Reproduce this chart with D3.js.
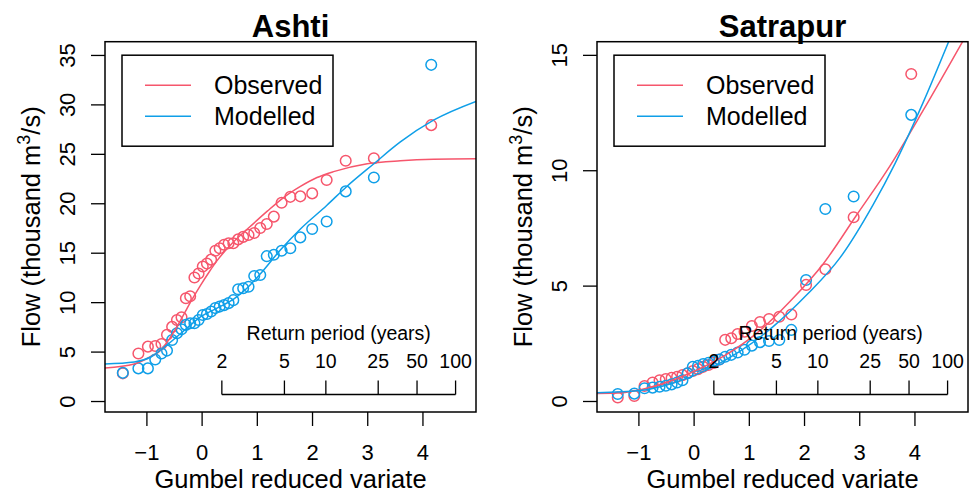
<!DOCTYPE html>
<html>
<head>
<meta charset="utf-8">
<script src="https://cdn.jsdelivr.net/npm/d3@7"></script>
<style>
  body { margin: 0; background: #fff; }
  svg { display: block; }
  text { font-family: "Liberation Sans", Arial, Helvetica, sans-serif; fill: #000; }
</style>
</head>
<body>
<svg id="chart" width="969" height="492"></svg>
<script>
const RED = "#f6566c";
const BLUE = "#0f9fe8";

// Ashti: Gumbel plotting positions and sorted annual maxima (thousand m3/s)
const ashtiX = [-1.427, -1.145, -0.973, -0.840, -0.727, -0.627, -0.534, -0.447, -0.364, -0.285,
  -0.207, -0.130, -0.055, 0.021, 0.096, 0.172, 0.249, 0.327, 0.407, 0.489, 0.574, 0.662, 0.753,
  0.850, 0.953, 1.062, 1.180, 1.308, 1.449, 1.607, 1.788, 2.003, 2.265, 2.610, 3.120, 4.159];
const ashtiObs = [2.8, 4.8, 5.5, 5.56, 5.77, 6.7, 7.5, 8.2, 8.47, 10.4, 10.6, 12.5, 12.9, 13.6,
  13.9, 14.3, 15.2, 15.45, 15.8, 15.95, 15.95, 16.35, 16.6, 16.8, 17.0, 17.5, 17.9, 18.65, 20.05,
  20.65, 20.7, 21.0, 22.35, 24.3, 24.55, 27.9];
const ashtiMod = [2.85, 3.3, 3.3, 4.2, 4.8, 5.1, 6.17, 6.85, 7.25, 7.7, 7.86, 7.86, 8.2, 8.7, 8.8,
  9.05, 9.4, 9.55, 9.7, 9.9, 10.2, 11.3, 11.4, 11.55, 12.65, 12.75, 14.65, 14.8, 15.2, 15.45,
  16.55, 17.4, 18.15, 21.2, 22.6, 34.0];
// fitted curves
const ashtiObsFitX = [-1.75, -1.22, -0.92, -0.77, -0.62, -0.47, -0.32, -0.17, -0.02, 0.13, 0.28,
  0.58, 0.89, 1.19, 1.49, 1.79, 2.09, 2.39, 3.0, 3.6, 4.2, 4.97];
const ashtiObsFitY = [3.35, 3.75, 4.5, 5.0, 6.0, 7.3, 8.8, 10.3, 11.7, 13.0, 14.2,
  16.1, 17.7, 19.2, 20.6, 21.7, 22.6, 23.2, 24.0, 24.3, 24.45, 24.5];
const ashtiModFitX = [-1.75, -1.22, -0.92, -0.62, -0.26, -0.02, 0.28, 0.58, 0.82, 1.07, 1.43,
  1.79, 2.27, 2.63, 3.12, 3.6, 4.2, 4.97];
const ashtiModFitY = [3.75, 3.95, 4.45, 5.7, 7.4, 8.5, 9.4, 10.3, 11.4, 12.9, 15.3,
  17.4, 19.8, 21.7, 24.0, 26.2, 28.4, 30.3];

// Satrapur
const satrapurX = [-1.374, -1.074, -0.889, -0.743, -0.617, -0.504, -0.399, -0.299, -0.202, -0.108,
  -0.014, 0.079, 0.173, 0.269, 0.367, 0.467, 0.572, 0.682, 0.798, 0.922, 1.055, 1.202, 1.366,
  1.552, 1.770, 2.037, 2.386, 2.899, 3.942];
const satrapurObs = [0.15, 0.22, 0.65, 0.8, 0.9, 0.95, 1.0, 1.05, 1.12, 1.2, 1.3, 1.38, 1.48,
  1.56, 1.65, 1.8, 2.65, 2.72, 2.9, 3.0, 3.25, 3.42, 3.55, 3.65, 3.75, 5.03, 5.71, 7.96, 14.17];
const satrapurMod = [0.3, 0.32, 0.55, 0.58, 0.62, 0.66, 0.72, 0.8, 0.9, 1.2, 1.48, 1.52, 1.6,
  1.65, 1.72, 1.8, 1.92, 2.0, 2.1, 2.22, 2.4, 2.55, 2.6, 2.64, 3.08, 5.24, 8.32, 8.86, 12.4];
const satrapurObsFitX = [-1.75, -1.3, -0.98, -0.5, -0.07, 0.53, 1.14, 1.74, 2.35, 2.95, 3.56, 4.16, 4.89];
const satrapurObsFitY = [0.33, 0.36, 0.48, 0.8, 1.2, 1.92, 2.93, 4.3, 5.95, 8.05, 10.2, 12.6, 15.65];
const satrapurModFitX = [-1.75, -0.98, -0.38, 0.23, 0.83, 1.44, 2.05, 2.65, 3.25, 3.65, 4.16, 4.65];
const satrapurModFitY = [0.36, 0.45, 0.77, 1.34, 2.14, 3.22, 4.6, 6.2, 8.5, 10.3, 12.95, 15.75];

const xTicks = [-1, 0, 1, 2, 3, 4];
const returnPeriods = [2, 5, 10, 25, 50, 100];
const legendLabels = ["Observed", "Modelled"];

const gumbel = T => -Math.log(-Math.log(1 - 1 / T));

const svg = d3.select("#chart");

function drawPanel(opts) {
  const { id, title, left, right, top, bottom, yDomain, yTicks, x, obs, mod, obsFit, modFit } = opts;
  const g = svg.append("g");

  const xs = d3.scaleLinear().domain([-1.75, 4.97]).range([left, right]);
  const ys = d3.scaleLinear().domain(yDomain).range([bottom, top]);

  g.append("clipPath").attr("id", "clip-" + id)
    .append("rect").attr("x", left).attr("y", top)
    .attr("width", right - left).attr("height", bottom - top);

  const plot = g.append("g").attr("clip-path", "url(#clip-" + id + ")");

  // points
  const series = [{ v: obs, c: RED }, { v: mod, c: BLUE }];
  series.forEach(s => {
    plot.append("g").selectAll("circle")
      .data(s.v.map((v, i) => [x[i], v]))
      .enter().append("circle")
      .attr("cx", d => xs(d[0]))
      .attr("cy", d => ys(d[1]))
      .attr("r", 5.3)
      .attr("fill", "none")
      .attr("stroke", s.c)
      .attr("stroke-width", 1.5);
  });

  // fitted curves
  const line = d3.line().x(d => xs(d[0])).y(d => ys(d[1])).curve(d3.curveMonotoneX);
  [{ f: obsFit, c: RED }, { f: modFit, c: BLUE }].forEach(s => {
    plot.append("path")
      .datum(s.f[0].map((v, i) => [v, s.f[1][i]]))
      .attr("d", line)
      .attr("fill", "none")
      .attr("stroke", s.c)
      .attr("stroke-width", 1.5);
  });

  // axes
  const xAxis = g.append("g").attr("transform", `translate(0,${bottom})`)
    .call(d3.axisBottom(xs).tickValues(xTicks).tickSize(14)
      .tickFormat(d => d < 0 ? "\u2212" + Math.abs(d) : d));
  const yAxis = g.append("g").attr("transform", `translate(${left},0)`)
    .call(d3.axisLeft(ys).tickValues(yTicks).tickSize(14));
  [xAxis, yAxis].forEach(a => {
    a.select(".domain").remove();
    a.selectAll("line").attr("stroke", "#000").attr("stroke-width", 1.3);
    a.selectAll("text").attr("font-size", 22).attr("fill", "#000")
      .attr("font-family", "Liberation Sans, Arial, sans-serif");
  });
  xAxis.selectAll("text").attr("dy", null).attr("y", 48);
  yAxis.selectAll("text")
    .attr("x", null).attr("dy", null)
    .attr("text-anchor", "middle")
    .attr("transform", "translate(-30,0) rotate(-90)");

  // box
  g.append("rect").attr("x", left).attr("y", top)
    .attr("width", right - left).attr("height", bottom - top)
    .attr("fill", "none").attr("stroke", "#000").attr("stroke-width", 1.5);

  // title
  g.append("text").attr("x", (left + right) / 2).attr("y", 37)
    .attr("text-anchor", "middle").attr("font-size", 31).attr("font-weight", "bold")
    .text(title);

  // axis titles
  g.append("text").attr("x", (left + right) / 2).attr("y", 488)
    .attr("text-anchor", "middle").attr("font-size", 25.5)
    .text("Gumbel reduced variate");
  const yl = g.append("text")
    .attr("transform", `translate(${left - 65},${(top + bottom) / 2}) rotate(-90)`)
    .attr("text-anchor", "middle").attr("font-size", 25.5);
  yl.append("tspan").text("Flow (thousand m");
  yl.append("tspan").attr("font-size", 18).attr("dy", -10).text("3");
  yl.append("tspan").attr("dy", 10).text("/s)");

  // legend
  const lg = g.append("g").attr("transform", `translate(${left + 17},${top + 13.5})`);
  lg.append("rect").attr("width", 211).attr("height", 91)
    .attr("fill", "#fff").attr("stroke", "#000").attr("stroke-width", 1.5);
  [RED, BLUE].forEach((c, i) => {
    const yy = 30 + i * 31;
    lg.append("line").attr("x1", 23).attr("x2", 69).attr("y1", yy).attr("y2", yy)
      .attr("stroke", c).attr("stroke-width", 1.5);
    lg.append("text").attr("x", 92).attr("y", yy + 9).attr("font-size", 25).text(legendLabels[i]);
  });

  // return period axis
  const ry = bottom - 17.5;
  const rp = g.append("g");
  rp.append("line").attr("x1", xs(gumbel(2))).attr("x2", xs(gumbel(100)))
    .attr("y1", ry).attr("y2", ry).attr("stroke", "#000").attr("stroke-width", 1.3);
  rp.selectAll("line.tk").data(returnPeriods).enter().append("line").attr("class", "tk")
    .attr("x1", d => xs(gumbel(d))).attr("x2", d => xs(gumbel(d)))
    .attr("y1", ry).attr("y2", ry - 14).attr("stroke", "#000").attr("stroke-width", 1.3);
  rp.selectAll("text.tl").data(returnPeriods).enter().append("text").attr("class", "tl")
    .attr("x", d => xs(gumbel(d))).attr("y", ry - 27)
    .attr("text-anchor", "middle").attr("font-size", 19.5).text(d => d);
  rp.append("text").attr("x", (xs(gumbel(2)) + xs(gumbel(100))) / 2).attr("y", ry - 55)
    .attr("text-anchor", "middle").attr("font-size", 19.5).text("Return period (years)");
}

drawPanel({
  id: "ashti", title: "Ashti", left: 105, right: 476, top: 41.7, bottom: 412,
  yDomain: [-1.11, 36.34], yTicks: [0, 5, 10, 15, 20, 25, 30, 35],
  x: ashtiX, obs: ashtiObs, mod: ashtiMod,
  obsFit: [ashtiObsFitX, ashtiObsFitY], modFit: [ashtiModFitX, ashtiModFitY]
});
drawPanel({
  id: "satrapur", title: "Satrapur", left: 597, right: 968, top: 41.7, bottom: 412,
  yDomain: [-0.477, 15.57], yTicks: [0, 5, 10, 15],
  x: satrapurX, obs: satrapurObs, mod: satrapurMod,
  obsFit: [satrapurObsFitX, satrapurObsFitY], modFit: [satrapurModFitX, satrapurModFitY]
});
</script>
</body>
</html>
